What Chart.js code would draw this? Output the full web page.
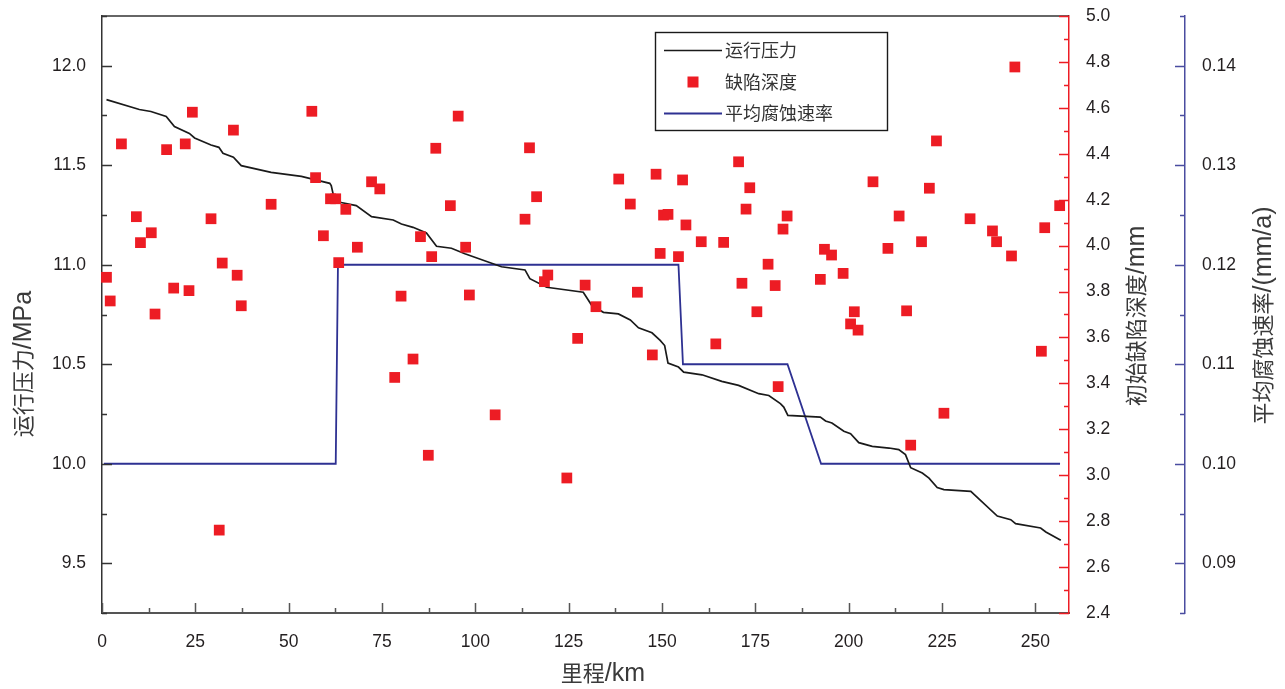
<!DOCTYPE html>
<html><head><meta charset="utf-8">
<script src="https://cdn.jsdelivr.net/npm/chart.js@4.4.1/dist/chart.umd.min.js"></script>
<style>html,body{margin:0;padding:0;background:#fff;}#wrap{width:1285px;height:689px;position:relative;}</style>
</head><body><div id="wrap"><canvas id="c" width="1285" height="689"></canvas></div>
<script>
// ---- data ----
const pressureKm = [1.2,10.0,13.1,17.2,19.4,23.4,24.8,29.2,31.3,32.4,35.2,37.3,45.3,53.4,61.0,61.4,62.3,63.7,68.1,72.2,78.0,80.2,83.3,86.9,89.6,93.6,97.2,107.0,113.3,114.6,119.1,128.9,131.2,134.3,138.3,141.5,143.7,147.3,149.5,150.7,151.6,154.4,155.8,160.7,166.0,170.5,175.9,178.6,181.7,182.6,183.7,192.4,193.8,195.5,198.7,200.5,202.7,206.3,210.8,213.4,215.2,216.6,219.7,221.5,223.7,225.5,232.7,239.8,243.4,244.7,251.4,252.8,256.8];
const pressureMPa = [11.83,11.78,11.77,11.745,11.695,11.66,11.637,11.602,11.59,11.56,11.54,11.498,11.464,11.444,11.409,11.398,11.322,11.314,11.297,11.242,11.225,11.205,11.188,11.16,11.093,11.083,11.055,10.99,10.974,10.93,10.887,10.862,10.795,10.761,10.753,10.723,10.683,10.658,10.62,10.594,10.506,10.486,10.46,10.447,10.414,10.394,10.352,10.343,10.302,10.285,10.243,10.234,10.215,10.205,10.163,10.151,10.106,10.087,10.079,10.071,10.046,9.98,9.953,9.928,9.88,9.87,9.861,9.737,9.719,9.699,9.677,9.657,9.615];

const defectKm = [1.2,2.2,5.2,9.2,10.3,13.2,14.2,17.3,19.2,22.3,23.3,24.2,29.2,31.4,32.2,35.2,36.2,37.3,45.3,56.2,57.2,59.3,61.2,62.6,63.4,65.3,68.4,72.2,74.4,78.4,80.1,83.3,85.3,87.4,88.3,89.4,93.3,95.4,97.4,98.4,105.3,113.3,114.5,116.4,118.5,119.4,124.5,127.4,129.4,132.3,138.4,141.5,143.4,147.4,148.4,149.5,150.4,151.6,154.4,155.5,156.4,160.5,164.4,166.5,170.5,171.4,172.5,173.5,175.4,178.4,180.3,181.1,182.4,183.5,192.4,193.5,195.4,198.5,200.5,201.5,202.5,206.5,210.5,213.5,215.5,216.6,219.5,221.6,223.5,225.5,232.5,238.5,239.6,243.6,244.5,251.6,252.5,256.5];
const defectDepth = [3.862,3.759,4.443,4.126,4.013,4.056,3.702,4.418,3.815,4.443,3.804,4.581,4.117,2.761,3.924,4.503,3.871,3.738,4.180,4.585,4.296,4.043,4.204,4.204,3.926,4.158,3.993,4.278,4.247,3.426,3.780,3.506,4.039,3.087,3.952,4.424,4.174,4.564,3.993,3.785,3.263,4.115,4.426,4.213,3.843,3.872,2.988,3.596,3.828,3.734,4.290,4.181,3.797,3.524,4.311,3.966,4.133,4.136,3.952,4.286,4.090,4.017,3.572,4.014,4.365,3.836,4.159,4.252,3.712,3.919,3.826,3.386,4.072,4.129,3.853,3.984,3.959,3.879,3.659,3.712,3.632,4.278,3.988,4.129,3.716,3.131,4.017,4.250,4.456,3.270,4.117,4.064,4.017,3.955,4.778,3.540,4.078,4.174];

const rateKm = [0.5,62.6,63.2,154.4,155.6,183.6,192.6,256.6];
const rateValue = [0.10,0.10,0.12,0.12,0.11,0.11,0.10,0.10];

const xTicks = [0,25,50,75,100,125,150,175,200,225,250];
const pressureTicks = [9.5,10.0,10.5,11.0,11.5,12.0];
const depthTicks = [2.4,2.6,2.8,3.0,3.2,3.4,3.6,3.8,4.0,4.2,4.4,4.6,4.8,5.0];
const rateTicks = [0.09,0.10,0.11,0.12,0.13,0.14];

const seriesNames = ['运行压力','缺陷深度','平均腐蚀速率'];
const xTitle = '里程/km';
const pressureTitle = '运行压力/MPa';
const depthTitle = '初始缺陷深度/mm';
const rateTitle = '平均腐蚀速率/(mm/a)';

// ---- helpers ----
function zip(xs, ys){ const n=Math.min(xs.length, ys.length); const o=[]; for(let i=0;i<n;i++) o.push({x:xs[i], y:ys[i]}); return o; }
const LAT = "'Liberation Sans', Arial, sans-serif";
const CJK = "'Noto Sans CJK SC', sans-serif";
const tickFont = {family: LAT, size: 17.5};
const tickColor = '#231f20';
const RED = '#ed1c24', BLACK = '#1a1a1a', NAVY = '#2e3192';

function setTicks(arr){ return function(scale){ scale.ticks = arr.map(v => ({value: v})); }; }
function fitV(w){ return function(s){ s.width = w; s.paddingTop = 0; s.paddingBottom = 0; }; }

function minorOf(major, min, max){
  const out = [];
  const step = major[1]-major[0];
  const cand = [major[0]-step/2];
  for (let i=0;i<major.length-1;i++) cand.push((major[i]+major[i+1])/2);
  cand.push(major[major.length-1]+step/2);
  cand.forEach(v => { if (v >= min-1e-9 && v <= max+1e-9) out.push(v); });
  return out;
}

function drawRuns(ctx, text, cx, baseY, cjkSize, latSize, color){
  const runs = [];
  for (const ch of text){
    const isC = /[\u3400-\u9fff]/.test(ch);
    if (runs.length && runs[runs.length-1].c === isC) runs[runs.length-1].t += ch;
    else runs.push({c:isC, t:ch});
  }
  let total = 0;
  runs.forEach(r => { ctx.font = r.c ? `${cjkSize}px ${CJK}` : `${latSize}px ${LAT}`; r.w = ctx.measureText(r.t).width; total += r.w; });
  let x = cx - total/2;
  ctx.fillStyle = color; ctx.textAlign = 'left'; ctx.textBaseline = 'alphabetic';
  runs.forEach(r => { ctx.font = r.c ? `${cjkSize}px ${CJK}` : `${latSize}px ${LAT}`; ctx.fillText(r.t, x, baseY); x += r.w; });
}

const decor = {
  id: 'decor',
  afterDatasetsDraw(chart){
    const ctx = chart.ctx, ca = chart.chartArea;
    const sx = chart.scales.x, sy = chart.scales.y, s1 = chart.scales.y1, s2 = chart.scales.y2;
    ctx.save();
    // top frame line
    ctx.strokeStyle = '#333'; ctx.lineWidth = 1.5;
    ctx.beginPath(); ctx.moveTo(ca.left, ca.top); ctx.lineTo(ca.right, ca.top); ctx.stroke();
    // inward tick marks
    function vTicks(scale, x0, dir, color, majors){
      ctx.strokeStyle = color; ctx.lineWidth = 1.5;
      const minors = minorOf(majors, scale.min, scale.max);
      ctx.beginPath();
      majors.forEach(v => { const y = Math.round(scale.getPixelForValue(v))+0.5; ctx.moveTo(x0, y); ctx.lineTo(x0+dir*10, y); });
      minors.forEach(v => { const y = Math.round(scale.getPixelForValue(v))+0.5; ctx.moveTo(x0, y); ctx.lineTo(x0+dir*5, y); });
      ctx.stroke();
    }
    vTicks(sy, ca.left, 1, '#333', pressureTicks);
    vTicks(s1, ca.right, -1, RED, depthTicks);
    vTicks(s2, s2.left, -1, '#4a4ca0', rateTicks);
    ctx.strokeStyle = '#555'; ctx.lineWidth = 1.5;
    ctx.beginPath();
    xTicks.forEach(v => { const x = Math.round(sx.getPixelForValue(v))+0.5; ctx.moveTo(x, ca.bottom); ctx.lineTo(x, ca.bottom-10); });
    minorOf(xTicks, sx.min, sx.max).forEach(v => { const x = Math.round(sx.getPixelForValue(v))+0.5; ctx.moveTo(x, ca.bottom); ctx.lineTo(x, ca.bottom-5); });
    ctx.stroke();

    // axis titles
    const tColor = '#3a3a3a';
    drawRuns(ctx, xTitle, 603, 681, 22, 25, tColor);
    function vTitle(text, cx, cy){
      ctx.save(); ctx.translate(cx, cy); ctx.rotate(-Math.PI/2);
      drawRuns(ctx, text, 0, 8, 22, 25, tColor); ctx.restore();
    }
    vTitle(pressureTitle, 22.5, 364);
    vTitle(depthTitle, 1136, 316);
    vTitle(rateTitle, 1262.5, 315.5);

    // legend
    const ds = chart.data.datasets;
    const bx = 655.5, by = 32.5, bw = 232, bh = 98;
    ctx.fillStyle = '#fff'; ctx.fillRect(bx, by, bw, bh);
    ctx.strokeStyle = '#1a1a1a'; ctx.lineWidth = 1.4; ctx.strokeRect(bx, by, bw, bh);
    const rows = [50, 82, 113];
    ctx.font = `18px ${CJK}`; ctx.textBaseline = 'middle'; ctx.textAlign = 'left';
    ds.forEach((d, i) => {
      const y = rows[d.legendRow];
      if (d.showLine === false) {
        ctx.fillStyle = d.backgroundColor; ctx.fillRect(693-5.5, y-5.5, 11, 11);
      } else {
        ctx.strokeStyle = d.borderColor; ctx.lineWidth = d.borderWidth;
        ctx.beginPath(); ctx.moveTo(664, y+0.5); ctx.lineTo(722, y+0.5); ctx.stroke();
      }
      ctx.fillStyle = '#333'; ctx.fillText(d.label, 725, y);
    });
    ctx.restore();
  }
};

new Chart(document.getElementById('c'), {
  type: 'line',
  data: {
    datasets: [
      { label: seriesNames[1], legendRow: 1, data: zip(defectKm, defectDepth), yAxisID: 'y1', showLine: false,
        pointStyle: 'rect', pointRadius: 7.6, pointBorderWidth: 0, backgroundColor: RED, borderColor: RED, clip: false, order: 0 },
      { label: seriesNames[0], legendRow: 0, data: zip(pressureKm, pressureMPa), yAxisID: 'y', borderColor: BLACK, borderWidth: 1.7,
        pointRadius: 0, tension: 0, fill: false, order: 1 },
      { label: seriesNames[2], legendRow: 2, data: zip(rateKm, rateValue), yAxisID: 'y2', borderColor: NAVY, borderWidth: 1.8,
        pointRadius: 0, tension: 0, fill: false, order: 2 }
    ]
  },
  options: {
    responsive: false, animation: false, devicePixelRatio: 1,
    layout: { padding: { top: 16, left: 0, right: 0, bottom: 0 } },
    plugins: { legend: { display: false }, tooltip: { enabled: false } },
    scales: {
      x: { type: 'linear', position: 'bottom', min: 0, max: 259,
        afterBuildTicks: setTicks(xTicks), afterFit: s => { s.height = 76; s.paddingLeft = 0; s.paddingRight = 0; },
        ticks: { font: tickFont, color: tickColor, padding: 19, maxRotation: 0, autoSkip: false, callback: v => String(v) },
        grid: { display: false, drawTicks: false }, border: { display: true, color: '#555', width: 2 } },
      y: { type: 'linear', position: 'left', min: 9.25, max: 12.25,
        afterBuildTicks: setTicks(pressureTicks), afterFit: fitV(102),
        ticks: { font: tickFont, color: tickColor, padding: 16, autoSkip: false, callback: v => Number(v).toFixed(1) },
        grid: { display: false, drawTicks: false }, border: { display: true, color: '#333', width: 1.5 } },
      y1: { type: 'linear', position: 'right', min: 2.4, max: 5.0, weight: 0,
        afterBuildTicks: setTicks(depthTicks), afterFit: fitV(116),
        ticks: { font: tickFont, color: tickColor, padding: 17, autoSkip: false, callback: v => Number(v).toFixed(1) },
        grid: { display: false, drawTicks: false }, border: { display: true, color: RED, width: 1.5 } },
      y2: { type: 'linear', position: 'right', min: 0.085, max: 0.145, weight: 1,
        afterBuildTicks: setTicks(rateTicks), afterFit: fitV(100),
        ticks: { font: tickFont, color: tickColor, padding: 17, autoSkip: false, callback: v => Number(v).toFixed(2) },
        grid: { display: false, drawTicks: false }, border: { display: true, color: '#4a4ca0', width: 1.5 } }
    }
  },
  plugins: [decor]
});
</script></body></html>
